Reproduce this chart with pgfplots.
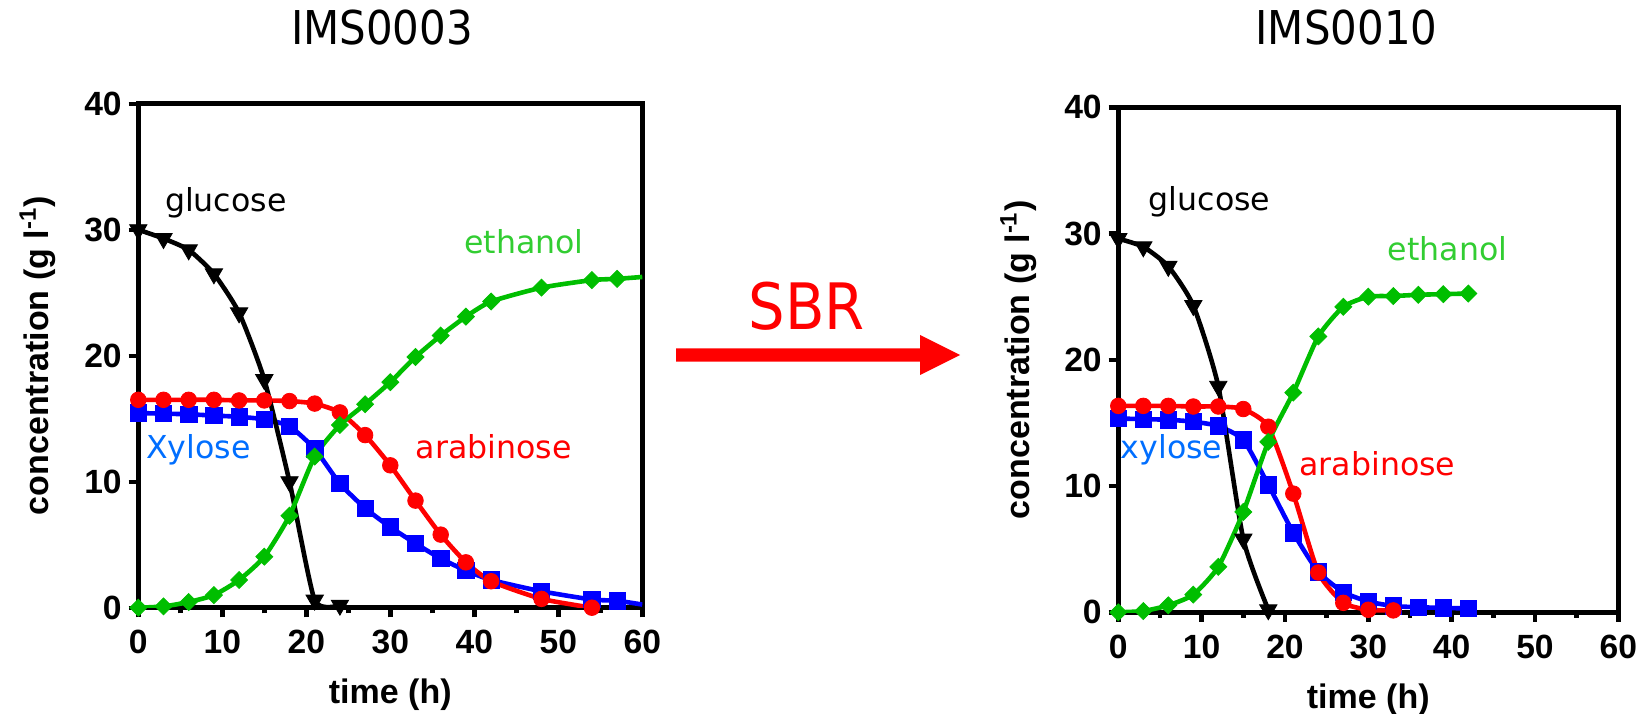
\documentclass[border=0pt]{standalone}
\usepackage{fontspec}
\setmainfont{Liberation Sans}
\newfontfamily\labfont{DejaVu Sans}
\newfontfamily\titfont{DejaVu Sans Condensed}
\usepackage{pgfplots}
\usepackage{pgfplotstable}
\pgfplotsset{compat=1.18}

\definecolor{cblue}{RGB}{0,0,255}
\definecolor{cred}{RGB}{255,0,0}
\definecolor{cgreen}{RGB}{0,190,0}
\definecolor{tblue}{RGB}{0,110,255}
\definecolor{tgreen}{RGB}{50,205,50}

% ---------- IMS0003 ----------
\pgfplotstableread{
t v
0 30.0
3 29.3
6 28.4
9 26.5
12 23.4
15 18.1
18 10.0
21 0.6
24 0.2
}\Aglc
\pgfplotstableread{
t v
0 16.5
3 16.5
6 16.5
9 16.5
12 16.45
15 16.45
18 16.4
21 16.2
24 15.5
27 13.7
30 11.3
33 8.5
36 5.8
39 3.6
42 2.1
48 0.7
54 0.0
}\Aara
\pgfplotstableread{
t v
0 15.45
3 15.4
6 15.35
9 15.25
12 15.15
15 14.95
18 14.4
21 12.6
24 9.85
27 7.9
30 6.4
33 5.1
36 3.9
39 2.95
42 2.2
48 1.3
54 0.65
57 0.55
60 0.25
}\Axyl
\pgfplotstableread{
t v
0 0
3 0.1
6 0.45
9 1.0
12 2.2
15 4.05
18 7.3
21 12.0
24 14.5
27 16.15
30 17.9
33 19.9
36 21.6
39 23.1
42 24.3
48 25.4
54 26.0
57 26.1
60 26.25
}\Aeth
% ---------- IMS0010 ----------
\pgfplotstableread{
t v
0 29.6
3 28.95
6 27.4
9 24.3
12 17.9
15 5.8
18 0.2
}\Bglc
\pgfplotstableread{
t v
0 16.35
3 16.35
6 16.35
9 16.3
12 16.3
15 16.1
18 14.7
21 9.4
24 3.15
27 0.75
30 0.2
33 0.15
}\Bara
\pgfplotstableread{
t v
0 15.35
3 15.3
6 15.25
9 15.1
12 14.75
15 13.65
18 10.1
21 6.3
24 3.2
27 1.6
30 0.85
33 0.5
36 0.4
39 0.35
42 0.3
}\Bxyl
\pgfplotstableread{
t v
0 0
3 0.1
6 0.55
9 1.4
12 3.6
15 7.95
18 13.5
21 17.4
24 21.85
27 24.2
30 25.0
33 25.05
36 25.15
39 25.2
42 25.25
}\Beth

\pgfplotsset{
 myax/.style={
  scale only axis,
  xmin=0, xmax=60, ymin=0, ymax=40,
  xtick={0,10,...,60}, ytick={0,10,...,40},
  minor xtick={5,15,...,55},
  tick align=outside, xtick pos=bottom, ytick pos=left,
  axis line style={line width=2.4pt},
  tick style={line width=2.2pt, black},
  major tick length=4.8pt, minor tick length=2.8pt,
  /pgf/number format/assume math mode=true,
  ticklabel style={font=\fontsize{16.8}{18}\selectfont\bfseries},
  xticklabel style={yshift=-3pt},
  label style={font=\fontsize{17}{19}\selectfont\bfseries},
  xlabel={time (h)},
  ylabel={concentration (g l\textsuperscript{-1})},
  xlabel style={at={(axis description cs:0.5,-0.173)}, anchor=center},
  ylabel style={at={(axis description cs:-0.2,0.5)}, anchor=center},
  clip=true,
 },
 lin/.style={line width=2.3pt, smooth, tension=0.35, no markers},
 glc/.style={black, mark=triangle*, mark size=5pt, mark options={rotate=180, solid}},
 ara/.style={cred, mark=*, mark size=3.9pt},
 xyl/.style={cblue, mark=square*, mark size=4.1pt},
 eth/.style={cgreen, mark=square*, mark size=3pt, mark options={rotate=45}},
}
\tikzset{ann/.style={anchor=base, font=\labfont\fontsize{15.8}{17}\selectfont}}

\begin{document}
\begin{tikzpicture}
\path[use as bounding box] (0,0) rectangle (824.5pt,356.5pt);

% ----- left axis -----
\begin{axis}[myax, at={(69.15pt,52.65pt)}, anchor=south west, width=252pt, height=252pt]
\addplot[lin, cblue] table[x=t,y=v] {\Axyl};
\addplot[xyl, only marks, restrict x to domain=0:58] table[x=t,y=v] {\Axyl};
\addplot[lin, cred] table[x=t,y=v] {\Aara};
\addplot[ara, only marks] table[x=t,y=v] {\Aara};
\addplot[lin, black] table[x=t,y=v] {\Aglc};
\addplot[glc, only marks] table[x=t,y=v] {\Aglc};
\addplot[lin, cgreen] table[x=t,y=v] {\Aeth};
\addplot[eth, only marks, restrict x to domain=0:58] table[x=t,y=v] {\Aeth};
\node[ann, black] at (axis cs:10.42,31.43) {glucose};
\node[ann, tgreen] at (axis cs:45.9,28.1) {ethanol};
\node[ann, tblue] at (axis cs:7.14,11.86) {Xylose};
\node[ann, cred] at (axis cs:42.3,11.86) {arabinose};
\end{axis}

% ----- right axis -----
\begin{axis}[myax, at={(559.15pt,50.35pt)}, anchor=south west, width=250pt, height=252.5pt]
\addplot[lin, cblue] table[x=t,y=v] {\Bxyl};
\addplot[xyl, only marks] table[x=t,y=v] {\Bxyl};
\addplot[lin, cred] table[x=t,y=v] {\Bara};
\addplot[ara, only marks] table[x=t,y=v] {\Bara};
\addplot[lin, black] table[x=t,y=v] {\Bglc};
\addplot[glc, only marks] table[x=t,y=v] {\Bglc};
\addplot[lin, cgreen] table[x=t,y=v] {\Beth};
\addplot[eth, only marks] table[x=t,y=v] {\Beth};
\node[ann, black] at (axis cs:10.95,31.8) {glucose};
\node[ann, tgreen] at (axis cs:39.5,27.9) {ethanol};
\node[ann, tblue] at (axis cs:6.4,12.2) {xylose};
\node[ann, cred] at (axis cs:31.1,10.87) {arabinose};
\end{axis}

% ----- titles -----
\node[anchor=base, font=\titfont\fontsize{23.3}{26}\selectfont] at (191pt,334pt) {IMS0003};
\node[anchor=base, font=\titfont\fontsize{23.3}{26}\selectfont] at (673.25pt,334pt) {IMS0010};

% ----- SBR arrow -----
\node[anchor=base, text=cred, font=\titfont\fontsize{32}{36}\selectfont] at (403.3pt,191.5pt) {SBR};
\fill[cred] (338pt,182.35pt) -- (460pt,182.35pt) -- (460pt,189pt) -- (480pt,179pt) -- (460pt,169pt) -- (460pt,175.65pt) -- (338pt,175.65pt) -- cycle;
\end{tikzpicture}
\end{document}
